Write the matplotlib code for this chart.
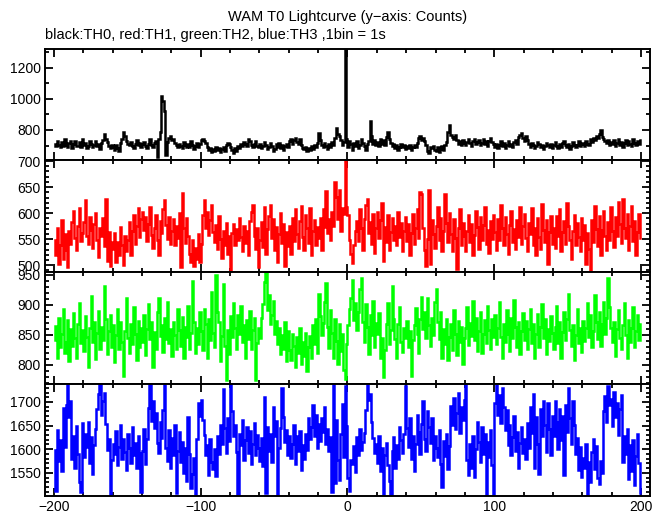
"""WAM T0 lightcurve, four energy channels stacked, 1 s bins."""

import matplotlib

matplotlib.use("Agg")
import matplotlib.pyplot as plt
import numpy as np
from matplotlib.ticker import MultipleLocator

plt.rcParams["font.family"] = ["Liberation Sans", "DejaVu Sans"]

# counts per 1 s bin, t = -200 .. 199 (rough)
th0 = [
    712, 695, 730, 705, 688, 720, 698, 741, 703, 690, 715, 726, 684, 709, 732, 697, 700, 721, 688, 745,
    706, 718, 683, 699, 731, 712, 690, 702, 727, 694, 709, 676, 715, 738, 775, 742, 724, 698, 681, 705,
    690, 672, 701, 684, 668, 715, 745, 790, 760, 728, 712, 706, 722, 695, 684, 709, 733, 702, 717, 690,
    708, 721, 695, 683, 712, 739, 704, 690, 716, 727, 625, 740, 790, 1015, 985, 920, 640, 722, 748, 760,
    735, 742, 718, 701, 689, 712, 697, 684, 720, 706, 693, 711, 688, 726, 703, 675, 699, 714, 690, 708,
    735, 742, 728, 717, 690, 672, 686, 660, 678, 665, 692, 671, 684, 659, 676, 690, 668, 702, 715, 708,
    690, 672, 655, 681, 668, 700, 687, 709, 695, 721, 712, 698, 740, 726, 705, 688, 712, 731, 700, 693,
    710, 684, 697, 722, 701, 676, 689, 715, 698, 663, 680, 707, 693, 719, 686, 702, 674, 695, 711, 689,
    728, 745, 712, 736, 751, 724, 708, 739, 702, 683, 675, 690, 668, 681, 672, 694, 679, 701, 688, 715,
    780, 735, 702, 689, 718, 694, 676, 709, 690, 722, 705, 748, 813, 771, 760, 738, 705, 722, 1400, 745,
    690, 732, 708, 674, 715, 699, 726, 681, 703, 742, 718, 694, 671, 709, 728, 857, 760, 712, 735, 701,
    724, 698, 745, 712, 733, 706, 752, 790, 741, 718, 696, 709, 684, 701, 673, 692, 710, 688, 705, 679,
    697, 684, 705, 672, 690, 703, 688, 716, 748, 762, 735, 751, 728, 705, 664, 652, 690, 681, 699, 672,
    668, 689, 659, 677, 694, 671, 701, 720, 785, 832, 770, 755, 741, 768, 738, 712, 728, 705, 733, 716,
    702, 725, 741, 716, 698, 728, 745, 709, 721, 736, 703, 718, 740, 712, 729, 695, 731, 750, 722, 708,
    690, 712, 684, 705, 726, 697, 718, 681, 703, 730, 694, 709, 688, 721, 735, 708, 752, 770, 781, 748,
    726, 761, 735, 710, 692, 718, 704, 683, 699, 724, 711, 688, 702, 677, 695, 719, 705, 690, 712, 686,
    703, 721, 698, 684, 710, 692, 715, 730, 701, 689, 712, 676, 697, 720, 705, 688, 702, 726, 694, 709,
    718, 695, 731, 712, 704, 739, 722, 746, 733, 760, 748, 772, 799, 756, 741, 728, 715, 737, 703, 722,
    708, 734, 695, 719, 741, 706, 724, 690, 713, 738, 701, 726, 712, 695, 744, 718, 703, 729, 711, 736,
]
th1 = [
    548, 520, 571, 503, 538, 587, 512, 559, 530, 497, 566, 541, 583, 604, 552, 529, 575, 610, 546, 561,
    583, 625, 557, 540, 592, 568, 534, 579, 601, 548, 515, 572, 556, 590, 537, 627, 509, 563, 498, 544,
    531, 562, 507, 545, 519, 574, 538, 501, 556, 527, 548, 583, 520, 566, 597, 541, 575, 609, 554, 588,
    603, 567, 592, 546, 579, 612, 558, 534, 571, 596, 549, 520, 585, 562, 607, 625, 578, 551, 593, 540,
    566, 589, 538, 575, 552, 601, 496, 638, 571, 543, 590, 556, 522, 507, 548, 499, 533, 512, 560, 506,
    541, 597, 626, 572, 603, 558, 587, 615, 563, 544, 578, 531, 594, 550, 513, 566, 539, 582, 521, 557,
    490, 562, 580, 538, 569, 548, 591, 554, 527, 575, 543, 566, 519, 584, 602, 615, 557, 531, 572, 496,
    548, 583, 535, 612, 521, 569, 595, 615, 552, 588, 530, 574, 506, 559, 601, 543, 580, 498, 563, 537,
    576, 522, 590, 547, 608, 560, 533, 585, 614, 554, 529, 597, 571, 543, 609, 520, 565, 586, 538, 574,
    552, 591, 530, 607, 574, 642, 561, 589, 548, 603, 576, 660, 631, 588, 645, 566, 610, 598, 720, 612,
    596, 548, 521, 505, 539, 566, 584, 547, 608, 572, 530, 589, 615, 627, 561, 583, 540, 598, 524, 571,
    602, 553, 587, 619, 508, 574, 545, 597, 530, 563, 590, 548, 576, 538, 603, 555, 582, 527, 566, 593,
    547, 579, 520, 562, 598, 541, 571, 608, 553, 640, 636, 572, 529, 498, 551, 645, 503, 587, 560, 533,
    575, 612, 549, 590, 528, 566, 637, 582, 545, 601, 560, 527, 589, 553, 493, 571, 608, 539, 582, 556,
    528, 566, 597, 544, 579, 520, 558, 605, 573, 531, 592, 549, 578, 612, 540, 567, 523, 584, 551, 596,
    563, 530, 589, 548, 616, 572, 539, 593, 560, 521, 578, 604, 545, 570, 532, 586, 555, 611, 541, 575,
    598, 552, 527, 581, 560, 609, 538, 572, 519, 590, 555, 531, 617, 568, 544, 586, 502, 563, 595, 540,
    571, 533, 594, 556, 608, 527, 563, 585, 541, 620, 575, 548, 512, 566, 597, 538, 581, 554, 527, 590,
    549, 578, 503, 562, 531, 491, 587, 545, 613, 570, 537, 594, 520, 568, 604, 556, 529, 583, 548, 611,
    566, 535, 592, 557, 622, 580, 543, 628, 571, 552, 599, 530, 576, 613, 547, 585, 520, 564, 598, 553,
]
th2 = [
    842, 865, 811, 878, 829, 851, 893, 820, 838, 875, 806, 859, 832, 887, 845, 812, 869, 904, 836, 858,
    823, 881, 847, 796, 862, 915, 838, 871, 809, 853, 890, 827, 864, 841, 932, 876, 818, 857, 884, 830,
    866, 805, 849, 893, 827, 872, 838, 781, 856, 911, 844, 819, 868, 835, 897, 852, 808, 874, 829, 861,
    838, 884, 816, 859, 902, 843, 871, 797, 855, 826, 889, 912, 848, 867, 821, 879, 843, 905, 837, 860,
    815, 871, 849, 826, 893, 858, 832, 880, 811, 864, 847, 899, 827, 853, 940, 872, 819, 862, 835, 889,
    857, 824, 893, 868, 812, 876, 841, 921, 853, 830, 950, 889, 872, 806, 848, 935, 832, 775, 858, 818,
    881, 846, 903, 862, 827, 884, 851, 899, 838, 866, 812, 875, 843, 890, 826, 858, 879, 774, 836, 862,
    845, 879, 901, 938, 955, 892, 916, 868, 884, 907, 851, 873, 835, 862, 818, 849, 827, 871, 806, 856,
    824, 808, 851, 832, 797, 846, 819, 862, 801, 838, 815, 853, 790, 829, 848, 812, 867, 835, 876, 820,
    918, 882, 849, 870, 905, 936, 864, 828, 891, 853, 812, 876, 840, 802, 868, 823, 851, 791, 776, 834,
    866, 893, 912, 941, 875, 904, 858, 889, 926, 945, 872, 838, 901, 864, 818, 883, 849, 907, 829, 870,
    852, 887, 811, 845, 780, 824, 869, 903, 834, 858, 931, 876, 843, 812, 868, 897, 838, 822, 861, 844,
    873, 829, 856, 781, 842, 867, 895, 851, 820, 876, 913, 859, 889, 844, 911, 866, 832, 878, 849, 905,
    926, 872, 843, 888, 811, 859, 834, 877, 808, 846, 869, 825, 891, 852, 816, 874, 838, 863, 801, 845,
    862, 897, 833, 870, 848, 906, 841, 879, 823, 857, 888, 819, 852, 875, 836, 899, 858, 827, 876, 846,
    883, 834, 861, 905, 847, 812, 869, 838, 892, 851, 823, 878, 845, 909, 864, 829, 872, 818, 856, 887,
    841, 873, 826, 859, 894, 837, 868, 812, 852, 885, 829, 863, 901, 844, 876, 818, 859, 839, 882, 853,
    826, 864, 899, 837, 871, 812, 855, 888, 841, 876, 919, 858, 832, 867, 808, 849, 893, 836, 862, 821,
    874, 839, 861, 903, 846, 884, 829, 857, 916, 872, 843, 889, 831, 868, 905, 852, 878, 945, 896, 861,
    838, 872, 815, 859, 891, 844, 826, 867, 903, 849, 812, 875, 838, 861, 897, 829, 856, 884, 842, 868,
]
th3 = [
    1598, 1512, 1641, 1575, 1620, 1553, 1688, 1605, 1694, 1736, 1668, 1702, 1579, 1627, 1561, 1649, 1590, 1530, 1510, 1655,
    1583, 1632, 1604, 1657, 1571, 1626, 1548, 1609, 1643, 1685, 1716, 1738, 1672, 1703, 1719, 1654, 1598, 1621, 1503, 1577,
    1612, 1589, 1638, 1566, 1604, 1651, 1579, 1621, 1595, 1557, 1633, 1602, 1570, 1646, 1587, 1614, 1560, 1628, 1593, 1509,
    1597, 1642, 1568, 1621, 1687, 1735, 1659, 1702, 1644, 1676, 1613, 1591, 1658, 1624, 1683, 1736, 1602, 1575, 1640, 1561,
    1623, 1588, 1652, 1507, 1596, 1637, 1574, 1615, 1549, 1603, 1532, 1668, 1590, 1518, 1547, 1581, 1506, 1622, 1697, 1671,
    1705, 1662, 1630, 1587, 1608, 1546, 1621, 1572, 1559, 1600, 1543, 1628, 1590, 1652, 1611, 1728, 1645, 1593, 1667, 1618,
    1737, 1680, 1629, 1652, 1594, 1504, 1633, 1608, 1662, 1577, 1619, 1646, 1592, 1638, 1569, 1612, 1655, 1587, 1631, 1603,
    1576, 1624, 1564, 1711, 1508, 1648, 1597, 1632, 1574, 1690, 1627, 1659, 1503, 1603, 1644, 1729, 1668, 1616, 1641, 1588,
    1629, 1582, 1612, 1651, 1568, 1627, 1597, 1639, 1555, 1608, 1580, 1633, 1599, 1665, 1621, 1647, 1694, 1628, 1672, 1603,
    1654, 1618, 1667, 1636, 1689, 1611, 1642, 1597, 1625, 1510, 1738, 1528, 1661, 1577, 1535, 1633, 1695, 1584, 1733, 1649,
    1540, 1512, 1578, 1569, 1607, 1551, 1626, 1588, 1643, 1599, 1615, 1634, 1682, 1735, 1704, 1716, 1658, 1623, 1592, 1611,
    1570, 1627, 1554, 1603, 1506, 1588, 1614, 1566, 1532, 1502, 1597, 1625, 1561, 1608, 1580, 1646, 1619, 1593, 1632, 1733,
    1645, 1604, 1667, 1580, 1628, 1553, 1611, 1672, 1636, 1590, 1654, 1701, 1622, 1597, 1681, 1648, 1613, 1665, 1577, 1629,
    1602, 1584, 1641, 1568, 1520, 1617, 1586, 1633, 1559, 1606, 1692, 1651, 1708, 1643, 1676, 1720, 1635, 1689, 1662, 1704,
    1738, 1577, 1545, 1612, 1560, 1629, 1542, 1601, 1658, 1616, 1574, 1647, 1590, 1632, 1503, 1615, 1583, 1641, 1566, 1500,
    1698, 1735, 1672, 1714, 1655, 1729, 1690, 1640, 1683, 1609, 1652, 1588, 1626, 1671, 1597, 1636, 1561, 1614, 1648, 1593,
    1622, 1579, 1655, 1603, 1690, 1634, 1716, 1561, 1668, 1612, 1547, 1685, 1629, 1702, 1651, 1595, 1697, 1642, 1588, 1671,
    1629, 1703, 1658, 1600, 1686, 1619, 1671, 1545, 1694, 1637, 1729, 1666, 1612, 1701, 1652, 1589, 1623, 1557, 1604, 1541,
    1582, 1560, 1611, 1502, 1573, 1530, 1594, 1621, 1558, 1606, 1540, 1526, 1575, 1549, 1680, 1712, 1657, 1733, 1694, 1706,
    1649, 1721, 1668, 1697, 1630, 1685, 1714, 1572, 1627, 1590, 1643, 1538, 1608, 1553, 1619, 1524, 1586, 1632, 1571, 1508,
]

t_start = -200
x_ticks = [-200, -100, 0, 100, 200]

panels = [
    (th0, "black", (607, 1320), 200, 100),
    (th1, "#ff0000", (487, 702), 50, 10),
    (th2, "#00ff00", (768, 955), 50, 10),
    (th3, "#0000ff", (1501, 1738), 50, 10),
]

fig = plt.figure(figsize=(6.69, 5.15), dpi=100)
left, width = 45 / 669, 605 / 669
edges = [49, 160, 272, 384, 496]  # panel borders in pixels from top

for i, (counts, color, ylim, major, minor) in enumerate(panels):
    top, bottom = edges[i], edges[i + 1]
    ax = fig.add_axes([left, 1 - bottom / 515, width, (bottom - top) / 515])
    t = np.arange(len(counts)) + t_start + 0.5
    ax.plot(t, counts, color=color, lw=1.8, drawstyle="steps-mid",
            solid_joinstyle="miter")
    ax.set_xlim(-206, 206)
    ax.set_ylim(*ylim)
    ax.set_xticks(x_ticks)
    ax.xaxis.set_minor_locator(MultipleLocator(20))
    ax.yaxis.set_major_locator(MultipleLocator(major))
    ax.yaxis.set_minor_locator(MultipleLocator(minor))
    ax.tick_params(which="both", direction="in", top=True, right=True,
                   width=1.3, labelsize=10, pad=3)
    ax.tick_params(which="major", length=6)
    ax.tick_params(which="minor", length=3)
    for spine in ax.spines.values():
        spine.set_linewidth(1.4)
    if i < 3:
        ax.tick_params(labelbottom=False)

fig.text(0.519, 0.967, "WAM T0 Lightcurve (y\u2212axis: Counts)",
         ha="center", va="center", fontsize=10.5)
fig.text(0.068, 0.932, "black:TH0, red:TH1, green:TH2, blue:TH3 ,1bin = 1s",
         ha="left", va="center", fontsize=10.5)

fig.savefig("out.png", dpi=100, facecolor="white")
